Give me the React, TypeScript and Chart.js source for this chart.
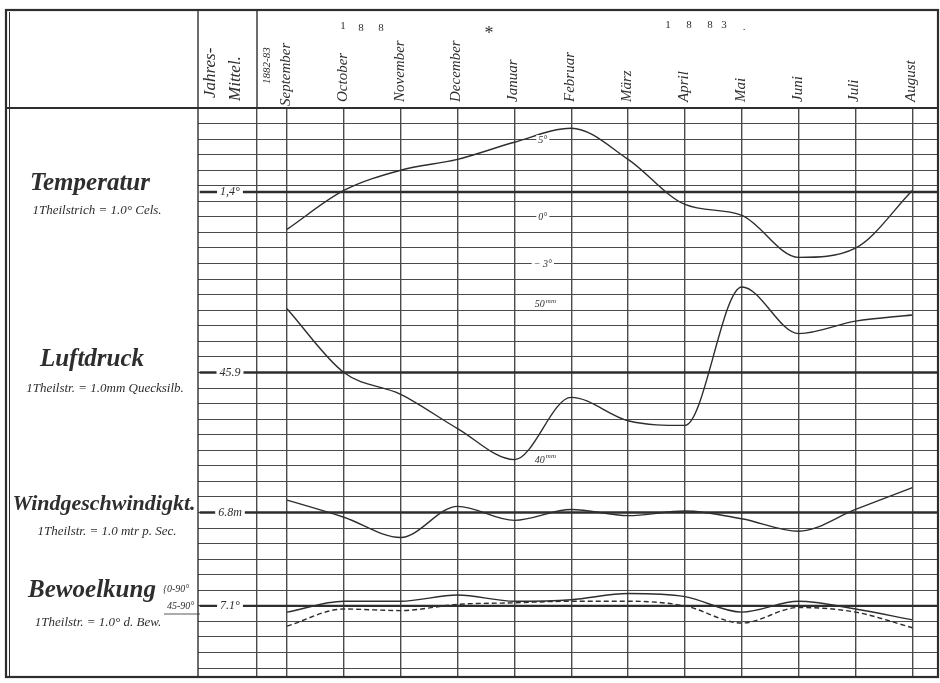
import React, { useEffect, useRef } from "react";
import { Chart, registerables } from "chart.js";

Chart.register(...registerables);

// ---------------- data ----------------
const monthLabels = ["September", "October", "November", "December", "Januar", "Februar", "März", "April", "Mai", "Juni", "Juli", "August"];
const monthIndex = [0, 1, 2, 3, 4, 5, 6, 7, 8, 9, 10, 11];
const temperature = [-1.0, 1.5, 2.8, 3.5, 4.6, 5.5, 3.5, 0.6, -0.1, -2.8, -2.2, 1.5];
const airPressure = [50.0, 45.9, 44.5, 42.3, 40.3, 44.3, 42.8, 42.5, 51.4, 48.4, 49.2, 49.6];
const windSpeed = [7.6, 6.5, 5.2, 7.2, 6.3, 7.0, 6.6, 6.9, 6.4, 5.6, 7.0, 8.4];
const cloud0to90 = [6.7, 7.4, 7.4, 7.8, 7.4, 7.5, 7.9, 7.7, 6.7, 7.4, 6.9, 6.2];
const cloud45to90 = [5.8, 6.9, 6.8, 7.2, 7.3, 7.4, 7.4, 7.1, 6.0, 7.0, 6.7, 5.7];
const annualMeans = [1.4, 45.9, 6.8, 7.1];
const annualMeanLabels = ["1,4°", "45.9", "6.8m", "7.1°"];
const sectionTitles = ["Temperatur", "Luftdruck", "Windgeschwindigkt.", "Bewoelkung"];
const sectionScaleNotes = ["1Theilstrich = 1.0° Cels.", "1Theilstr. = 1.0mm Quecksilb.", "1Theilstr. = 1.0 mtr p. Sec.", "1Theilstr. = 1.0° d. Bew."];
const tempTickValues = [5, 0, -3];
const tempTickLabels = ["5°", "0°", "− 3°"];
const pressureTickValues = [50, 40];
const pressureTickLabels = ["50", "40"];
const cloudRangeLabels = ["0-90°", "45-90°"];

// ---------------- layout ----------------
const W = 940;
const H = 683;
const AREA_LEFT = 198;
const AREA_TOP = 108;
const AREA_RIGHT = 938;
const AREA_BOTTOM = 677;
const ROW_PX = 15.56;
const ROWS = (AREA_BOTTOM - AREA_TOP) / ROW_PX;
const X0 = 287; // September line
const DX = 56.85; // month spacing
const xv = (px: number) => (px - X0) / DX;
const X_MIN = xv(AREA_LEFT);
const X_MAX = xv(AREA_RIGHT);
const X_DIVIDER = xv(257);
const meanRows = [5.4, 17, 26, 32];
const axisIds = ["yT", "yP", "yW", "yC"];

const INK = "#2e2e2e";
const GRID = "#4a4a4a";
const SCRIPT = '"Liberation Serif", "DejaVu Serif", serif';

function vText(ctx: CanvasRenderingContext2D, text: string, x: number, y: number, font: string) {
  ctx.save();
  ctx.translate(x, y);
  ctx.rotate(-Math.PI / 2);
  ctx.font = font;
  ctx.textAlign = "left";
  ctx.textBaseline = "middle";
  ctx.fillText(text, 0, 0);
  ctx.restore();
}

const framePlugin = {
  id: "frame",
  beforeDraw(chart: any) {
    const ctx = chart.ctx as CanvasRenderingContext2D;
    ctx.save();
    ctx.fillStyle = "#ffffff";
    ctx.fillRect(0, 0, chart.width, chart.height);
    ctx.restore();
  },
  afterDraw(chart: any) {
    const ctx = chart.ctx as CanvasRenderingContext2D;
    const { left, right, top, bottom } = chart.chartArea;
    const x = chart.scales.x;
    ctx.save();
    ctx.strokeStyle = INK;
    ctx.fillStyle = INK;

    // outer frame
    ctx.lineWidth = 2.2;
    ctx.strokeRect(6, 10, right - 6, bottom - 10);
    ctx.lineWidth = 1;
    ctx.beginPath();
    ctx.moveTo(9.5, 12);
    ctx.lineTo(9.5, bottom - 1);
    ctx.stroke();
    // header bottom line
    ctx.lineWidth = 1.8;
    ctx.beginPath();
    ctx.moveTo(6, top);
    ctx.lineTo(right, top);
    ctx.stroke();
    // vertical lines in header
    ctx.lineWidth = 1.4;
    [left, x.getPixelForValue(X_DIVIDER)].forEach((px) => {
      ctx.beginPath();
      ctx.moveTo(px, 10);
      ctx.lineTo(px, top);
      ctx.stroke();
    });
    // left column border
    ctx.beginPath();
    ctx.moveTo(left, top);
    ctx.lineTo(left, bottom);
    ctx.stroke();

    // header labels
    const mFont = `italic 15px ${SCRIPT}`;
    vText(ctx, "Jahres-", 211, 98, `italic 17px ${SCRIPT}`);
    vText(ctx, "Mittel.", 236, 101, `italic 17px ${SCRIPT}`);
    vText(ctx, "1882-83", x.getPixelForValue(0) - 20, 84, `italic 11px ${SCRIPT}`);
    monthLabels.forEach((m, i) => {
      vText(ctx, m, x.getPixelForValue(monthIndex[i]) - 1, i === 0 ? 106 : 102, mFont);
    });
    ctx.font = `11px ${SCRIPT}`;
    ctx.textAlign = "center";
    ctx.textBaseline = "middle";
    [["1", 343, 26], ["8", 361, 28], ["8", 381, 28]].forEach(([t, px, py]) => ctx.fillText(t as string, px as number, py as number));
    [["1", 668, 25], ["8", 689, 25], ["8", 710, 25], ["3", 724, 25], [".", 744, 27]].forEach(([t, px, py]) => ctx.fillText(t as string, px as number, py as number));
    ctx.font = `18px ${SCRIPT}`;
    ctx.fillText("*", 489, 34);

    // section titles (left column)
    const titleY = [190, 366, 510, 597];
    const titleX = [90, 92, 104, 92];
    const noteY = [214, 392, 535, 626];
    const noteX = [97, 105, 107, 98];
    ctx.textBaseline = "alphabetic";
    sectionTitles.forEach((t, i) => {
      ctx.font = `italic 600 ${i === 2 ? 22 : 25}px ${SCRIPT}`;
      ctx.textAlign = "center";
      ctx.fillText(t, titleX[i], titleY[i]);
      ctx.font = `italic 13px ${SCRIPT}`;
      ctx.fillText(sectionScaleNotes[i], noteX[i], noteY[i]);
    });
    // cloud bracket labels
    ctx.font = `italic 10px ${SCRIPT}`;
    ctx.textAlign = "left";
    ctx.fillText("{" + cloudRangeLabels[0], 163, 592);
    ctx.fillText(cloudRangeLabels[1], 167, 609);
    ctx.lineWidth = 0.8;
    ctx.beginPath();
    ctx.moveTo(164, 614);
    ctx.lineTo(200, 614);
    ctx.stroke();

    // annual mean labels on the mean lines
    annualMeans.forEach((m, i) => {
      const py = chart.scales[axisIds[i]].getPixelForValue(m);
      ctx.font = `italic 12px ${SCRIPT}`;
      ctx.textAlign = "center";
      ctx.textBaseline = "middle";
      const tw = ctx.measureText(annualMeanLabels[i]).width;
      const cx = 230;
      ctx.fillStyle = "#ffffff";
      ctx.fillRect(cx - tw / 2 - 3, py - 6, tw + 6, 12);
      ctx.fillStyle = INK;
      ctx.fillText(annualMeanLabels[i], cx, py);
    });

    // scale hints inside the plot
    const tx = x.getPixelForValue(4.5);
    ctx.font = `italic 10px ${SCRIPT}`;
    ctx.textAlign = "center";
    tempTickValues.forEach((v, i) => {
      const py = chart.scales.yT.getPixelForValue(v);
      ctx.fillStyle = "#ffffff";
      const tw = ctx.measureText(tempTickLabels[i]).width;
      ctx.fillRect(tx - tw / 2 - 2, py - 1, tw + 4, 10);
      ctx.fillStyle = INK;
      ctx.fillText(tempTickLabels[i], tx, py + 4);
    });
    pressureTickValues.forEach((v, i) => {
      const py = chart.scales.yP.getPixelForValue(v);
      ctx.font = `italic 10px ${SCRIPT}`;
      ctx.fillStyle = "#ffffff";
      ctx.fillRect(tx - 12, py - 10, 30, 9);
      ctx.fillStyle = INK;
      ctx.textAlign = "right";
      ctx.fillText(pressureTickLabels[i], tx + 2, py - 4);
      ctx.font = `italic 7px ${SCRIPT}`;
      ctx.textAlign = "left";
      ctx.fillText("mm", tx + 3, py - 8);
    });
    ctx.restore();
  },
};

function axisFor(mean: number, row: number) {
  return {
    type: "linear" as const,
    display: false,
    min: mean - (ROWS - row),
    max: mean + row,
  };
}

const toPoints = (arr: number[]) => arr.map((v, i) => ({ x: monthIndex[i], y: v }));

export default function App() {
  const ref = useRef<HTMLCanvasElement | null>(null);
  useEffect(() => {
    if (!ref.current) return;
    const seriesStyle = {
      borderColor: INK,
      borderWidth: 1.4,
      pointRadius: 0,
      cubicInterpolationMode: "monotone" as const,
      fill: false,
    };
    const meanStyle = { borderColor: INK, borderWidth: 2.4, pointRadius: 0, fill: false };
    const meanSets = annualMeans.map((m, i) => ({
      ...meanStyle,
      label: "mean" + i,
      yAxisID: axisIds[i],
      data: [
        { x: X_MIN + 0.03, y: m },
        { x: X_MAX, y: m },
      ],
    }));
    const chart = new Chart(ref.current, {
      type: "line",
      data: {
        datasets: [
          ...meanSets,
          { ...seriesStyle, label: "Temperatur", yAxisID: "yT", data: toPoints(temperature) },
          { ...seriesStyle, label: "Luftdruck", yAxisID: "yP", data: toPoints(airPressure) },
          { ...seriesStyle, label: "Windgeschwindigkeit", yAxisID: "yW", data: toPoints(windSpeed) },
          { ...seriesStyle, label: "Bewölkung 0-90°", yAxisID: "yC", data: toPoints(cloud0to90) },
          { ...seriesStyle, label: "Bewölkung 45-90°", yAxisID: "yC", borderDash: [5, 3], data: toPoints(cloud45to90) },
        ],
      },
      options: {
        animation: false,
        responsive: false,
        events: [],
        layout: { padding: { left: AREA_LEFT, top: AREA_TOP, right: W - AREA_RIGHT, bottom: H - AREA_BOTTOM } },
        plugins: { legend: { display: false }, tooltip: { enabled: false }, title: { display: false } },
        scales: {
          x: {
            type: "linear",
            min: X_MIN,
            max: X_MAX,
            border: { display: false },
            ticks: { display: false },
            grid: { color: GRID, lineWidth: 1.4, drawTicks: false },
            afterBuildTicks: (s: any) => {
              s.ticks = [X_DIVIDER, ...monthIndex].map((v) => ({ value: v }));
            },
          },
          yG: {
            type: "linear",
            reverse: true,
            min: 0,
            max: ROWS,
            position: "left",
            border: { display: false },
            ticks: { display: false },
            grid: { color: GRID, lineWidth: 1.1, drawTicks: false },
            afterBuildTicks: (s: any) => {
              const t: { value: number }[] = [];
              for (let r = 1; r <= Math.floor(ROWS); r++) t.push({ value: r });
              s.ticks = t;
            },
          },
          yT: axisFor(annualMeans[0], meanRows[0]),
          yP: axisFor(annualMeans[1], meanRows[1]),
          yW: axisFor(annualMeans[2], meanRows[2]),
          yC: axisFor(annualMeans[3], meanRows[3]),
        },
      },
      plugins: [framePlugin],
    } as any);
    return () => chart.destroy();
  }, []);
  return (
    <div style={{ position: "absolute", left: 0, top: 0, width: W, height: H }}>
      <canvas ref={ref} width={W} height={H} style={{ display: "block" }} />
    </div>
  );
}
